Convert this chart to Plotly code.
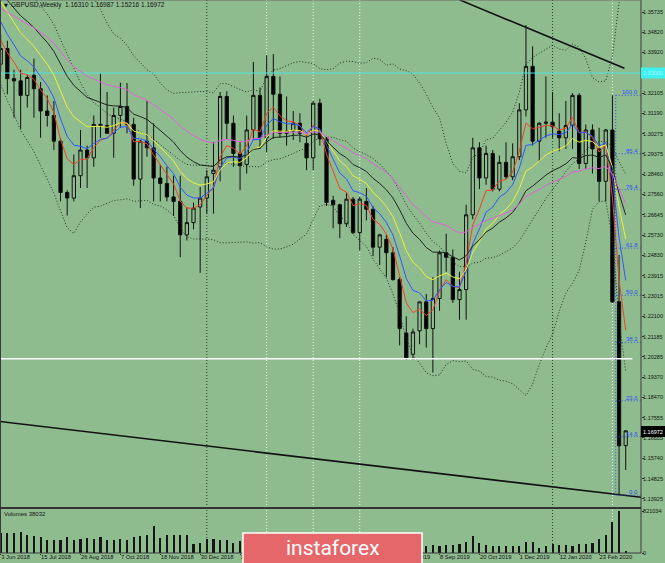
import plotly.graph_objects as go
import pandas as pd

BG = "#8FBC8F"

# ---------------- data (weekly GBPUSD, bar 0 = week of 3 Jun 2018) ----------------
opens = [1.3340, 1.3410, 1.3275, 1.3265, 1.3200, 1.3290, 1.3230, 1.3130, 1.3110, 1.2995,
         1.2765, 1.2740, 1.2840, 1.2955, 1.2920, 1.3070, 1.3065, 1.3030, 1.3110, 1.3150,
         1.3070, 1.2825, 1.2995, 1.2965, 1.2830, 1.2805, 1.2745, 1.2725, 1.2575, 1.2630,
         1.2700, 1.2740, 1.2850, 1.2880, 1.3195, 1.3075, 1.2940, 1.2890, 1.3045, 1.3200,
         1.3010, 1.3285, 1.3205, 1.3030, 1.3040, 1.3075, 1.2985, 1.2920, 1.3165, 1.3005,
         1.2730, 1.2710, 1.2625, 1.2735, 1.2585, 1.2725, 1.2690, 1.2520, 1.2555, 1.2495,
         1.2375, 1.2135, 1.2040, 1.2145, 1.2275, 1.2155, 1.2290, 1.2495, 1.2475, 1.2285,
         1.2330, 1.2665, 1.2965, 1.2830, 1.2940, 1.2780, 1.2900, 1.2835, 1.2925, 1.3135,
         1.3330, 1.2995, 1.3075, 1.3080, 1.3040, 1.3010, 1.3065, 1.3200, 1.2895, 1.3045,
         1.2960, 1.2815, 1.3045, 1.2275, 1.16310]
highs = [1.3473, 1.3445, 1.3315, 1.3315, 1.3290, 1.3365, 1.3260, 1.3200, 1.3175, 1.3010,
         1.2775, 1.2935, 1.3045, 1.2975, 1.3110, 1.3298, 1.3215, 1.3145, 1.3257, 1.3255,
         1.3100, 1.3000, 1.3175, 1.3075, 1.2890, 1.2880, 1.2840, 1.2840, 1.2700, 1.2720,
         1.2790, 1.2865, 1.2990, 1.3215, 1.3218, 1.3110, 1.2990, 1.3110, 1.3350, 1.3235,
         1.3380, 1.3385, 1.3285, 1.3195, 1.3130, 1.3120, 1.3030, 1.3175, 1.3185, 1.3015,
         1.2750, 1.2715, 1.2765, 1.2745, 1.2745, 1.2785, 1.2705, 1.2580, 1.2575, 1.2520,
         1.2385, 1.2210, 1.2155, 1.2275, 1.2310, 1.2385, 1.2505, 1.2580, 1.2510, 1.2410,
         1.2710, 1.3010, 1.2990, 1.2975, 1.2955, 1.2930, 1.2990, 1.2985, 1.3165, 1.3515,
         1.3420, 1.3080, 1.3285, 1.3215, 1.3120, 1.3175, 1.3210, 1.3210, 1.3070, 1.3070,
         1.3055, 1.3050, 1.3200, 1.2485, 1.16987]
lows = [1.3305, 1.3205, 1.3100, 1.3050, 1.3145, 1.3100, 1.3010, 1.3060, 1.2955, 1.2725,
        1.2662, 1.2725, 1.2785, 1.2785, 1.2880, 1.3010, 1.3030, 1.2920, 1.3055, 1.3030,
        1.2795, 1.2695, 1.2925, 1.2725, 1.2725, 1.2725, 1.2660, 1.2475, 1.2550, 1.2600,
        1.2405, 1.2670, 1.2670, 1.2815, 1.3005, 1.2880, 1.2775, 1.2850, 1.3000, 1.2960,
        1.2945, 1.3005, 1.3010, 1.2975, 1.3000, 1.2990, 1.2865, 1.2865, 1.2975, 1.2705,
        1.2605, 1.2560, 1.2610, 1.2580, 1.2505, 1.2640, 1.2480, 1.2440, 1.2385, 1.2370,
        1.2080, 1.2015, 1.2015, 1.2085, 1.2070, 1.1958, 1.2235, 1.2410, 1.2270, 1.2195,
        1.2195, 1.2645, 1.2780, 1.2800, 1.2770, 1.2770, 1.2825, 1.2820, 1.2910, 1.3105,
        1.2975, 1.2905, 1.3010, 1.3010, 1.2950, 1.2960, 1.2960, 1.2870, 1.2870, 1.2850,
        1.2725, 1.2725, 1.2270, 1.1409, 1.15216]
closes = [1.3410, 1.3275, 1.3265, 1.3200, 1.3280, 1.3230, 1.3130, 1.3110, 1.2995, 1.2765,
          1.2740, 1.2840, 1.2955, 1.2920, 1.3070, 1.3065, 1.3030, 1.3110, 1.3150, 1.3070,
          1.2825, 1.2995, 1.2965, 1.2830, 1.2805, 1.2745, 1.2725, 1.2575, 1.2630, 1.2695,
          1.2740, 1.2835, 1.2865, 1.3195, 1.3075, 1.2940, 1.2885, 1.3045, 1.3200, 1.3010,
          1.3285, 1.3205, 1.3030, 1.3040, 1.3075, 1.3030, 1.2920, 1.3165, 1.3005, 1.2720,
          1.2710, 1.2625, 1.2735, 1.2585, 1.2735, 1.2690, 1.2520, 1.2575, 1.2495, 1.2375,
          1.2155, 1.2025, 1.2140, 1.2275, 1.2155, 1.2290, 1.2495, 1.2475, 1.2285, 1.2330,
          1.2665, 1.2965, 1.2830, 1.2940, 1.2780, 1.2900, 1.2835, 1.2925, 1.3135, 1.3330,
          1.2995, 1.3075, 1.3080, 1.3060, 1.3010, 1.3065, 1.3200, 1.2895, 1.3045, 1.2960,
          1.2815, 1.3045, 1.2275, 1.1630, 1.16972]
# 19 weekly closes before the first visible bar (needed by the 20-week bands)
pre_closes = [1.4150, 1.4120, 1.3820, 1.4010, 1.3960, 1.3780, 1.3850, 1.3950, 1.4140, 1.4020,
              1.4090, 1.4240, 1.4020, 1.3770, 1.3515, 1.3540, 1.3460, 1.3310, 1.3340]
volumes = [394080, 394080, 394080, 407216, 361240, 341536, 315264, 262720, 249584, 249584,
           315264, 249584, 282424, 295560, 282424, 308696, 249584, 262720, 282424, 262720,
           308696, 328400, 348104, 525440, 295560, 348104, 348104, 348104, 361240, 177336,
           197040, 275856, 282424, 249584, 249584, 197040, 229880, 216744, 236448, 223312,
           288992, 262720, 236448, 197040, 183904, 170768, 177336, 216744, 203608, 236448,
           203608, 190472, 203608, 216744, 223312, 183904, 190472, 170768, 183904, 203608,
           243016, 236448, 190472, 170768, 144496, 151064, 144496, 151064, 164200, 183904,
           210176, 341536, 197040, 164200, 144496, 131360, 131360, 131360, 144496, 210176,
           210176, 98520, 131360, 183904, 164200, 151064, 144496, 177336, 183904, 197040,
           275856, 348104, 604256, 821034, 38032]

date_label_bars = [0, 6, 12, 18, 24, 30, 36, 42, 48, 54, 60, 66, 72, 78, 84, 90]
date_labels = ["3 Jun 2018", "15 Jul 2018", "26 Aug 2018", "7 Oct 2018", "18 Nov 2018",
               "30 Dec 2018", "10 Feb 2019", "24 Mar 2019", "5 May 2019", "16 Jun 2019",
               "28 Jul 2019", "8 Sep 2019", "20 Oct 2019", "1 Dec 2019", "12 Jan 2020",
               "23 Feb 2020"]
price_ticks = [1.35735, 1.34820, 1.33920, 1.32105, 1.31190, 1.30275, 1.29375, 1.28460,
               1.27560, 1.26645, 1.25730, 1.24830, 1.23915, 1.23015, 1.22100, 1.21185,
               1.20285, 1.19370, 1.18470, 1.17555, 1.16655, 1.15740, 1.14825, 1.13925]

ema_periods = [5, 8, 13, 21, 34]
ema_seeds = [1.3448, 1.3530, 1.3620, 1.3660, 1.3590]   # values at the first visible bar
ema_colors = ["#f0402a", "#2f55ff", "#eef03a", "#1e261e", "#e35fdc"]

fib_levels = [0.0, 14.6, 23.6, 38.2, 50.0, 61.8, 76.4, 85.4, 100.0]
fib_low, fib_high = 1.1409, 1.3200
fib_start_bar = 92.5

upper_trend_x = [69.0, 93.8]
upper_trend_y = [1.3628, 1.3322]
lower_trend_x = [-0.2, 96.4]
lower_trend_y = [1.1739, 1.1399]
white_level = 1.2020
cyan_level = 1.3300
white_vlines = [40, 47, 54, 92]
dark_vlines = [31, 83]

header = "GBPUSD,Weekly\u00a0\u00a01.16310 1.16987 1.15216 1.16972"

# ---------------- derived indicator series ----------------
idx = list(range(len(closes)))


def ema(values, period, seed):
    a = 2.0 / (period + 1)
    out = [seed]
    for v in values[1:]:
        out.append(out[-1] + a * (v - out[-1]))
    return out


s = pd.Series(pre_closes + closes)
n0 = len(pre_closes)
bb_mid = s.rolling(20).mean().iloc[n0:].tolist()
bb_sd = s.rolling(20).std(ddof=0).iloc[n0:].tolist()
bb_up = [m + 2 * d for m, d in zip(bb_mid, bb_sd)]
bb_lo = [m - 2 * d for m, d in zip(bb_mid, bb_sd)]

# ---------------- geometry ----------------
W, H = 665, 563
PW, PH = 641, 553          # plot-area size in px
XMIN, XMAX = -0.105, 96.3
YMIN, YMAX = 1.13559, 1.36273
DOT = "1px,2px"


def px(xp):
    return xp / PW


def py(yp):
    return (PH - yp) / PH


fig = go.Figure()

# Bollinger bands (dotted)
for band in (bb_up, bb_mid, bb_lo):
    fig.add_trace(go.Scatter(x=idx, y=band, mode="lines", xaxis="x", yaxis="y",
                             line=dict(color="#243024", width=1, dash=DOT),
                             hoverinfo="skip"))

# horizontal lines
fig.add_trace(go.Scatter(x=[XMIN, XMAX], y=[cyan_level, cyan_level], mode="lines",
                         xaxis="x", yaxis="y", line=dict(color="#4fe3e3", width=1),
                         hoverinfo="skip"))
fig.add_trace(go.Scatter(x=[XMIN, 95.0], y=[white_level, white_level], mode="lines",
                         xaxis="x", yaxis="y", line=dict(color="#ffffff", width=1.5),
                         hoverinfo="skip"))

# candles
fig.add_trace(go.Candlestick(
    x=idx, open=opens, high=highs, low=lows, close=closes, xaxis="x", yaxis="y",
    increasing=dict(line=dict(color="#101010", width=1), fillcolor=BG),
    decreasing=dict(line=dict(color="#101010", width=1), fillcolor="#000000"),
    whiskerwidth=0, hoverinfo="skip"))

# moving averages
for per, seed, col in zip(ema_periods, ema_seeds, ema_colors):
    fig.add_trace(go.Scatter(x=idx, y=ema(closes, per, seed), mode="lines",
                             xaxis="x", yaxis="y", line=dict(color=col, width=1),
                             hoverinfo="skip"))

# trend lines
fig.add_trace(go.Scatter(x=upper_trend_x, y=upper_trend_y, mode="lines", xaxis="x", yaxis="y",
                         line=dict(color="#111111", width=1.6), hoverinfo="skip"))
fig.add_trace(go.Scatter(x=lower_trend_x, y=lower_trend_y, mode="lines", xaxis="x", yaxis="y",
                         line=dict(color="#111111", width=1.6), hoverinfo="skip"))

# Fibonacci grid
fib_prices = [fib_low + (lv / 100.0) * (fib_high - fib_low) for lv in fib_levels]
FIB_COL = "#2e4cf5"
fig.add_trace(go.Scatter(x=[fib_start_bar, fib_start_bar], y=[fib_prices[0], fib_prices[-1]],
                         mode="lines", xaxis="x", yaxis="y",
                         line=dict(color=FIB_COL, width=1, dash=DOT), hoverinfo="skip"))
for lv, p in zip(fib_levels, fib_prices):
    fig.add_trace(go.Scatter(x=[fib_start_bar, XMAX], y=[p, p], mode="lines", xaxis="x",
                             yaxis="y", line=dict(color=FIB_COL, width=1, dash=DOT),
                             hoverinfo="skip"))

# volumes
fig.add_trace(go.Bar(x=idx, y=volumes, width=0.32, xaxis="x2", yaxis="y2",
                     marker=dict(color="#151515", line=dict(width=0)), hoverinfo="skip"))

annotations = []
for lv, p in zip(fib_levels, fib_prices):
    annotations.append(dict(x=XMAX - 0.1, y=p, xref="x", yref="y", text=f"{lv:.1f}",
                            showarrow=False, xanchor="right", yanchor="bottom", yshift=-2,
                            font=dict(family="Liberation Sans", size=6, color=FIB_COL)))

annotations += [
    dict(x=px(2), y=py(5), xref="paper", yref="paper", text="\u25bc", showarrow=False,
         xanchor="left", yanchor="middle", font=dict(family="DejaVu Sans", size=5, color="#111")),
    dict(x=px(9), y=py(5), xref="paper", yref="paper", text=header, showarrow=False,
         xanchor="left", yanchor="middle",
         font=dict(family="Liberation Sans", size=6.5, color="#111")),
    dict(x=px(2), y=py(514), xref="paper", yref="paper", text="Volumes 38032", showarrow=False,
         xanchor="left", yanchor="middle",
         font=dict(family="Liberation Sans", size=6, color="#111")),
    dict(x=px(653), y=py(73), xref="paper", yref="paper", text="1.33000", showarrow=False,
         xanchor="center", yanchor="middle",
         font=dict(family="Liberation Sans", size=5.5, color="#aef7f7")),
    dict(x=px(653), y=py(431.5), xref="paper", yref="paper", text="1.16972", showarrow=False,
         xanchor="center", yanchor="middle",
         font=dict(family="Liberation Sans", size=5.5, color="#ffffff")),
    dict(x=px(333), y=py(548), xref="paper", yref="paper", text="instaforex", showarrow=False,
         xanchor="center", yanchor="middle",
         font=dict(family="Roboto", size=21, color="#ffffff")),
]

shapes = []
# period separators (dark) and drawn verticals (white), behind the candles
for b in dark_vlines:
    shapes.append(dict(type="line", xref="x", yref="paper", x0=b, x1=b, y0=0, y1=1,
                       line=dict(color="#2c3c2c", width=1, dash=DOT), layer="below"))
for b in white_vlines:
    shapes.append(dict(type="line", xref="x", yref="paper", x0=b, x1=b, y0=0, y1=1,
                       line=dict(color="#eef8ec", width=1, dash=DOT), layer="below"))
shapes += [
    # panel frame
    dict(type="line", xref="paper", yref="paper", x0=0, x1=0, y0=0, y1=1,
         line=dict(color="#3a3a3a", width=2)),
    dict(type="line", xref="paper", yref="paper", x0=1, x1=1, y0=0, y1=1,
         line=dict(color="#3a3a3a", width=1)),
    dict(type="line", xref="paper", yref="paper", x0=0, x1=1, y0=1, y1=1,
         line=dict(color="#6a6a6a", width=1)),
    dict(type="line", xref="paper", yref="paper", x0=0, x1=1, y0=py(508), y1=py(508),
         line=dict(color="#333333", width=2)),
    dict(type="line", xref="paper", yref="paper", x0=0, x1=1, y0=0, y1=0,
         line=dict(color="#3a3a3a", width=1)),
    # axis price boxes
    dict(type="rect", xref="paper", yref="paper", x0=1, x1=px(665), y0=py(78.5), y1=py(67.5),
         fillcolor="#3ff0f0", line=dict(width=0)),
    dict(type="rect", xref="paper", yref="paper", x0=1, x1=px(665), y0=py(437), y1=py(426),
         fillcolor="#000000", line=dict(width=0)),
    # logo box
    dict(type="rect", xref="paper", yref="paper", x0=px(243), x1=px(422), y0=py(570),
         y1=py(533), fillcolor="#e5676a", line=dict(color="#ffffff", width=1.5), layer="above"),
]

tickfont = dict(family="Liberation Sans", size=5.5, color="#111")

fig.update_layout(
    width=W, height=H, margin=dict(l=0, r=W - PW, t=0, b=H - PH, autoexpand=False),
    paper_bgcolor=BG, plot_bgcolor=BG, showlegend=False, hovermode=False,
    bargap=0,
    xaxis=dict(domain=[0, 1], range=[XMIN, XMAX], anchor="y", showticklabels=False,
               showgrid=False, zeroline=False, showline=False, ticks="", automargin=False,
               rangeslider=dict(visible=False)),
    xaxis2=dict(domain=[0, 1], range=[XMIN, XMAX], anchor="y2", matches="x",
                tickmode="array", tickvals=date_label_bars, ticktext=date_labels,
                ticklabelposition="outside right", ticks="outside", ticklen=1,
                tickangle=0, tickcolor="#333", showgrid=False, zeroline=False,
                showline=False, automargin=False, ticklabelstandoff=-2,
                tickfont=dict(family="Liberation Sans", size=5.8, color="#111")),
    yaxis=dict(domain=[py(507), 1], range=[YMIN, YMAX], side="right", anchor="x",
               tickmode="array", tickvals=price_ticks,
               ticktext=[f"{v:.5f}" for v in price_ticks], ticks="outside", ticklen=2,
               tickcolor="#333", showgrid=False, zeroline=False, showline=False,
               automargin=False, ticklabelstandoff=-2, tickfont=tickfont),
    yaxis2=dict(domain=[0, py(509)], range=[0, 868000], side="right", anchor="x2",
                tickmode="array", tickvals=[0, 821034], ticktext=["0", "821034"],
                ticks="outside", ticklen=2, tickcolor="#333", showgrid=False,
                zeroline=False, showline=False, automargin=False, ticklabelstandoff=-2,
                tickfont=tickfont),
    annotations=annotations, shapes=shapes,
)

fig.write_html("out.html", config={"displayModeBar": False},
               post_script="document.body.style.margin='0';document.body.style.overflow='hidden';")
